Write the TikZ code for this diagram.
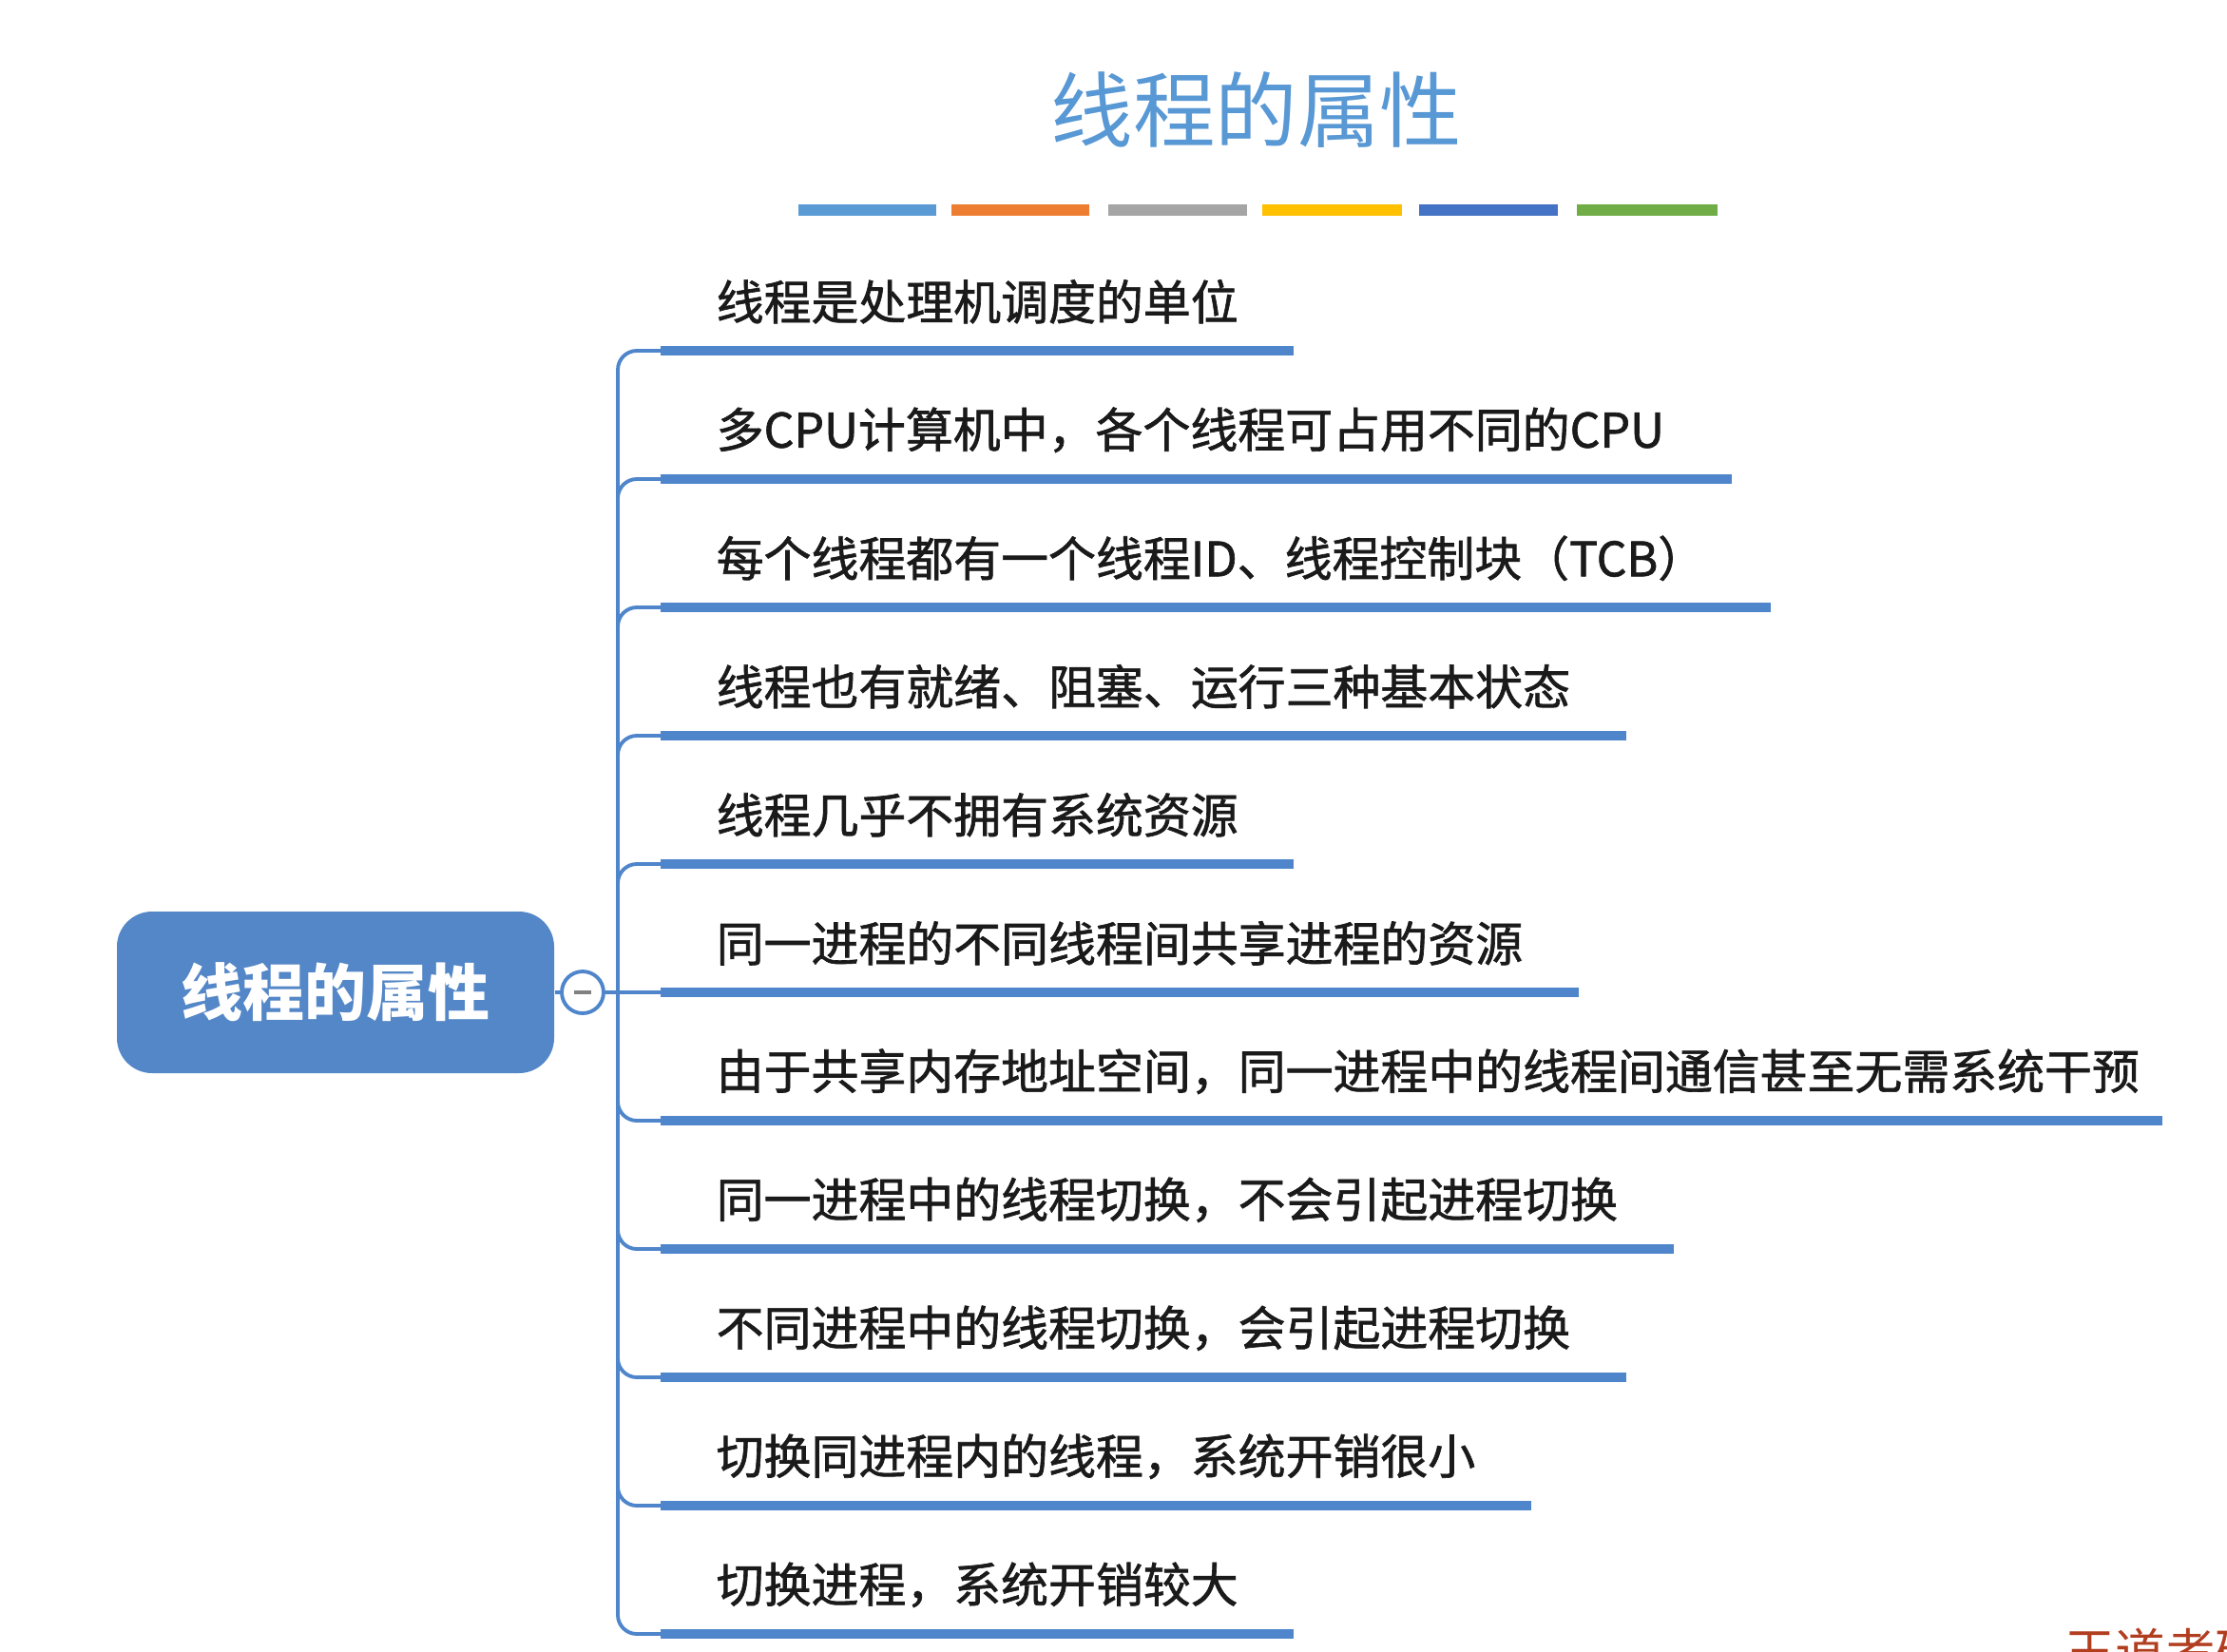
\documentclass[tikz,border=0pt]{standalone}
\usepackage{fontspec}
\setmainfont{Noto Sans CJK SC}
\newfontfamily\itemfont{Noto Sans CJK SC}[FakeBold=1.3]
\usepackage{tikz}
\usetikzlibrary{positioning}

\definecolor{titleblue}{RGB}{88,152,212}
\definecolor{mapblue}{RGB}{78,133,203}
\definecolor{rootblue}{RGB}{84,135,199}
\definecolor{barA}{RGB}{91,155,213}
\definecolor{barB}{RGB}{237,125,49}
\definecolor{barC}{RGB}{165,165,165}
\definecolor{barD}{RGB}{255,192,0}
\definecolor{barE}{RGB}{68,114,196}
\definecolor{barF}{RGB}{112,173,71}
\definecolor{markred}{RGB}{178,62,32}
\definecolor{itemtext}{RGB}{26,26,26}

\tikzset{
    rootbox/.style={fill=rootblue, rounded corners=0.37cm, minimum width=4.6cm,
        minimum height=1.7cm, text=white, font=\fontsize{18.5}{20}\selectfont\bfseries},
    toggle/.style={circle, draw=mapblue, line width=1.1pt, fill=white,
        minimum size=0.44cm, inner sep=0pt},
    item/.style={anchor=south west, inner xsep=0.58cm, inner ysep=0pt,
        minimum height=1.02cm, text=itemtext, font=\itemfont\fontsize{14.2}{16}\selectfont},
    branch/.style={draw=mapblue, line width=1.1pt, rounded corners=0.2cm},
    underbar/.style={draw=mapblue, line width=2.9pt},
    swatch/.style={line width=3.6pt}
}

\begin{document}
\begin{tikzpicture}
\useasboundingbox (0,0) rectangle (23.43,-17.37);

% Title
\node[text=titleblue, font=\fontsize{24.6}{26}\selectfont] (title) at (13.22,-1.16) {线程的属性};

% Colour strip
\draw[swatch, barA] (8.40,-2.21) -- (9.85,-2.21);
\draw[swatch, barB] (10.01,-2.21) -- (11.46,-2.21);
\draw[swatch, barC] (11.66,-2.21) -- (13.12,-2.21);
\draw[swatch, barD] (13.28,-2.21) -- (14.75,-2.21);
\draw[swatch, barE] (14.93,-2.21) -- (16.39,-2.21);
\draw[swatch, barF] (16.59,-2.21) -- (18.07,-2.21);

% Root and toggle
\node[rootbox] (root) at (3.53,-10.44) {线程的属性};
\node[toggle] (fold) at (6.13,-10.44) {};
\draw[line width=1pt, gray] (fold.center) ++(-0.09,0) -- ++(0.18,0);
\coordinate (hub) at (6.50,-10.44);
\draw[branch] (root.east) -- (fold.west);
\draw[branch] (fold.east) -- (hub);

% Items
\node[item] (p1) at (6.95,-3.69) {线程是处理机调度的单位};
\node[item] (p2) at (6.95,-5.04) {多CPU计算机中，各个线程可占用不同的CPU};
\node[item] (p3) at (6.95,-6.39) {每个线程都有一个线程ID、线程控制块（TCB）};
\node[item] (p4) at (6.95,-7.74) {线程也有就绪、阻塞、运行三种基本状态};
\node[item] (p5) at (6.95,-9.09) {线程几乎不拥有系统资源};
\node[item] (p6) at (6.95,-10.44) {同一进程的不同线程间共享进程的资源};
\node[item, inner xsep=0.23cm, xshift=0.35cm] (p7) at (6.95,-11.79) {由于共享内存地址空间，同一进程中的线程间通信甚至无需系统干预};
\node[item] (p8) at (6.95,-13.14) {同一进程中的线程切换，不会引起进程切换};
\node[item] (p9) at (6.95,-14.49) {不同进程中的线程切换，会引起进程切换};
\node[item] (p10) at (6.95,-15.84) {切换同进程内的线程，系统开销很小};
\node[item] (p11) at (6.95,-17.19) {切换进程，系统开销较大};

% Underlines
\draw[underbar] (p1.south west) -- (p1.south east);
\draw[underbar] (p2.south west) -- ([xshift=0.12cm]p2.south east);
\draw[underbar] (p3.south west) -- ([xshift=0.1cm]p3.south east);
\draw[underbar] (p4.south west) -- (p4.south east);
\draw[underbar] (p5.south west) -- (p5.south east);
\draw[underbar] (p6.south west) -- (p6.south east);
\draw[underbar] (p7.south west) ++(-0.35,0) -- (p7.south east);
\draw[underbar] (p8.south west) -- (p8.south east);
\draw[underbar] (p9.south west) -- (p9.south east);
\draw[underbar] (p10.south west) -- (p10.south east);
\draw[underbar] (p11.south west) -- (p11.south east);

% Branches
\draw[branch] (hub) |- (p1.south west);
\draw[branch] (hub) |- (p2.south west);
\draw[branch] (hub) |- (p3.south west);
\draw[branch] (hub) |- (p4.south west);
\draw[branch] (hub) |- (p5.south west);
\draw[branch] (hub) -- (p6.south west);
\draw[branch] (hub) |- ([xshift=-0.35cm]p7.south west);
\draw[branch] (hub) |- (p8.south west);
\draw[branch] (hub) |- (p9.south west);
\draw[branch] (hub) |- (p10.south west);
\draw[branch] (hub) |- (p11.south west);

% Corner mark, cut by the page edge
\begin{scope}
\clip (0,0) rectangle (23.43,-17.37);
\node[anchor=north west, inner sep=0pt, text=markred, font=\fontsize{15}{16}\selectfont] (mark) at (21.72,-17.12) {王道考研};
\end{scope}
\end{tikzpicture}
\end{document}
